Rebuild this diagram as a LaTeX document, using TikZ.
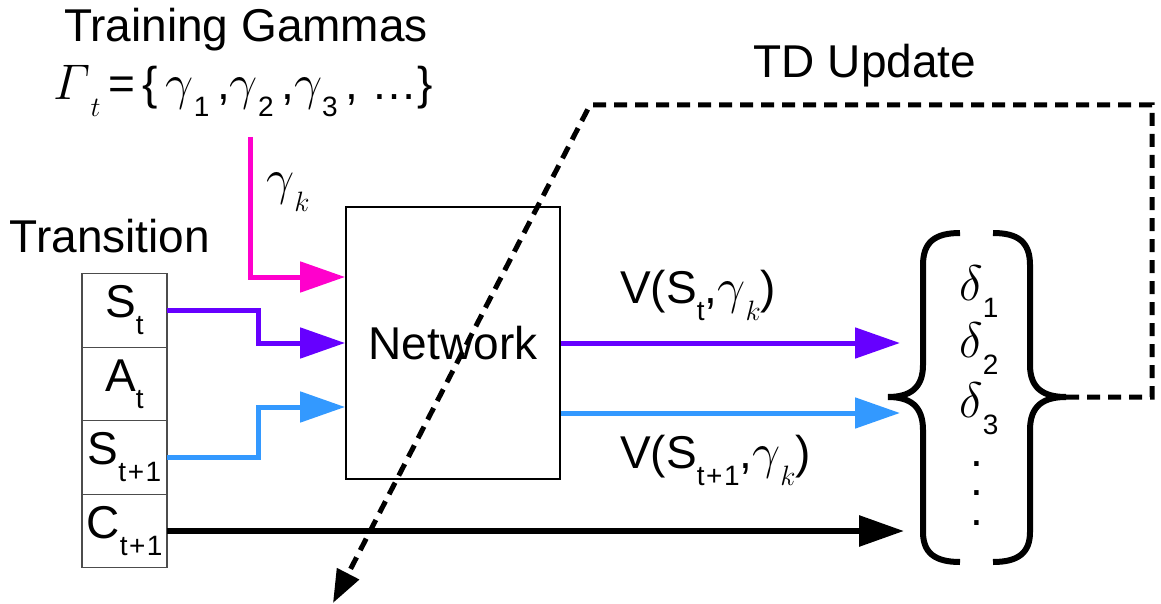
\documentclass[tikz,border=0pt]{standalone}
\usepackage{fix-cm}
\usepackage{amsmath}
\usepackage{fontspec}
\setmainfont{Liberation Sans}
\usepackage{xcolor}
\usetikzlibrary{arrows.meta,positioning}

\definecolor{gpink}{RGB}{255,0,204}
\definecolor{spurple}{RGB}{102,0,255}
\definecolor{sblue}{RGB}{51,153,255}

\newcommand{\sub}[1]{\raisebox{-17pt}{\fontsize{28}{28}\selectfont #1}}
\newcommand{\mth}[1]{{\fontsize{50}{50}\selectfont$#1$}}
\newcommand{\tpo}{t\kern1.5pt+\kern1.5pt1}

\begin{document}
\begin{tikzpicture}[x=1pt, y=-1pt, every node/.style={font=\fontsize{46}{50}\selectfont, inner sep=0pt}]
	\useasboundingbox (0,0) rectangle (1161,604);
	
	\begin{scope}[
		cell/.style={draw=black!70, line width=1.2pt, minimum width=85pt, minimum height=73.5pt, outer sep=0pt},
		netbox/.style={draw, line width=1.8pt, minimum width=214pt, minimum height=272pt}]
		\node (title) [anchor=base] at (246,42) {Training Gammas};
		\node (gset) [anchor=base] at (243,100) {\mth{\varGamma}\sub{$t$}\,=\,\{\,\mth{\gamma}\sub{1}\,,\mth{\gamma}\sub{2}\,,\mth{\gamma}\sub{3}\,, \ldots\}};
		\node (tdlabel) [anchor=base] at (865,78) {TD Update};
		\node (translabel) [anchor=base] at (110,252) {Transition};
		
		\node[cell] (st) at (124.5,310.5) {S\sub{t}};
		\node[cell, below=0pt of st] (ac) {A\sub{t}};
		\node[cell, below=0pt of ac] (st1) {S\sub{\tpo}};
		\node[cell, below=0pt of st1] (ct1) {C\sub{\tpo}};
		
		\node[netbox] (net) at (453,343) {Network};
		
		\node (gk) [anchor=base west] at (266,195) {\mth{\gamma}\sub{$k$}};
		\node (vst) [anchor=base west] at (620,303) {V(S\sub{t},\mth{\gamma}\sub{$k$})};
		\node (vst1) [anchor=base west] at (620,468) {V(S\sub{\tpo},\mth{\gamma}\sub{$k$})};
		
		\node (d1) [anchor=base west] at (959,300) {\mth{\delta}\sub{1}};
		\node (d2) [anchor=base west] at (959,357) {\mth{\delta}\sub{2}};
		\node (d3) [anchor=base west] at (959,417) {\mth{\delta}\sub{3}};
		\node (dots) [anchor=base, align=center, font=\fontsize{46}{29.5}\selectfont] at (977,525) {.\\.\\.};
	\end{scope}
	
	\coordinate (gin) at (250,137);
	\coordinate (din) at (900,397);
	\coordinate (ltip) at (888,397);
	\coordinate (rtip) at (1066,397);
	\coordinate (tdcorner) at (1152,105);
	\coordinate (tdturn) at (590,105);
	\coordinate (tdend) at (333,603);
	
	\draw[line width=5pt, gpink, -{Triangle[length=45pt, width=30pt]}] (gin) |- ([yshift=66pt]net.west);
	\draw[line width=5pt, spurple, -{Triangle[length=45pt, width=30pt]}] (st.east) -- ++(91,0) |- (net.west);
	\draw[line width=5pt, sblue, -{Triangle[length=45pt, width=30pt]}] (st1.east) -- ++(91,0) |- ([yshift=-64pt]net.west);
	
	\draw[line width=5pt, spurple, -{Triangle[length=45pt, width=30pt]}] (net.east) -- (net.east -| din);
	\draw[line width=5pt, sblue, -{Triangle[length=45pt, width=30pt]}] ([yshift=-70pt]net.east) -- ([yshift=-70pt]net.east -| din);
	\draw[line width=6pt, black, -{Triangle[length=45pt, width=30pt]}] (ct1.east) -- ([xshift=4pt]ct1.east -| din);
	
	\draw[line width=6pt] (960,233) .. controls (935,233) and (923,242) .. (923,265) -- (923,365) .. controls (923,388) and (910,397) .. (ltip) .. controls (910,397) and (923,406) .. (923,430) -- (923,532) .. controls (923,553) and (935,562) .. (960,562);
	\draw[line width=6pt] (993,233) .. controls (1018,233) and (1030,242) .. (1030,265) -- (1030,365) .. controls (1030,388) and (1043,397) .. (rtip) .. controls (1043,397) and (1030,406) .. (1030,430) -- (1030,532) .. controls (1030,553) and (1018,562) .. (993,562);
	
	\draw[line width=5pt, dash pattern=on 13pt off 8pt, -{Triangle[length=33pt, width=24pt]}] (rtip) -| (tdcorner) -- (tdturn) -- (tdend);
\end{tikzpicture}
\end{document}
